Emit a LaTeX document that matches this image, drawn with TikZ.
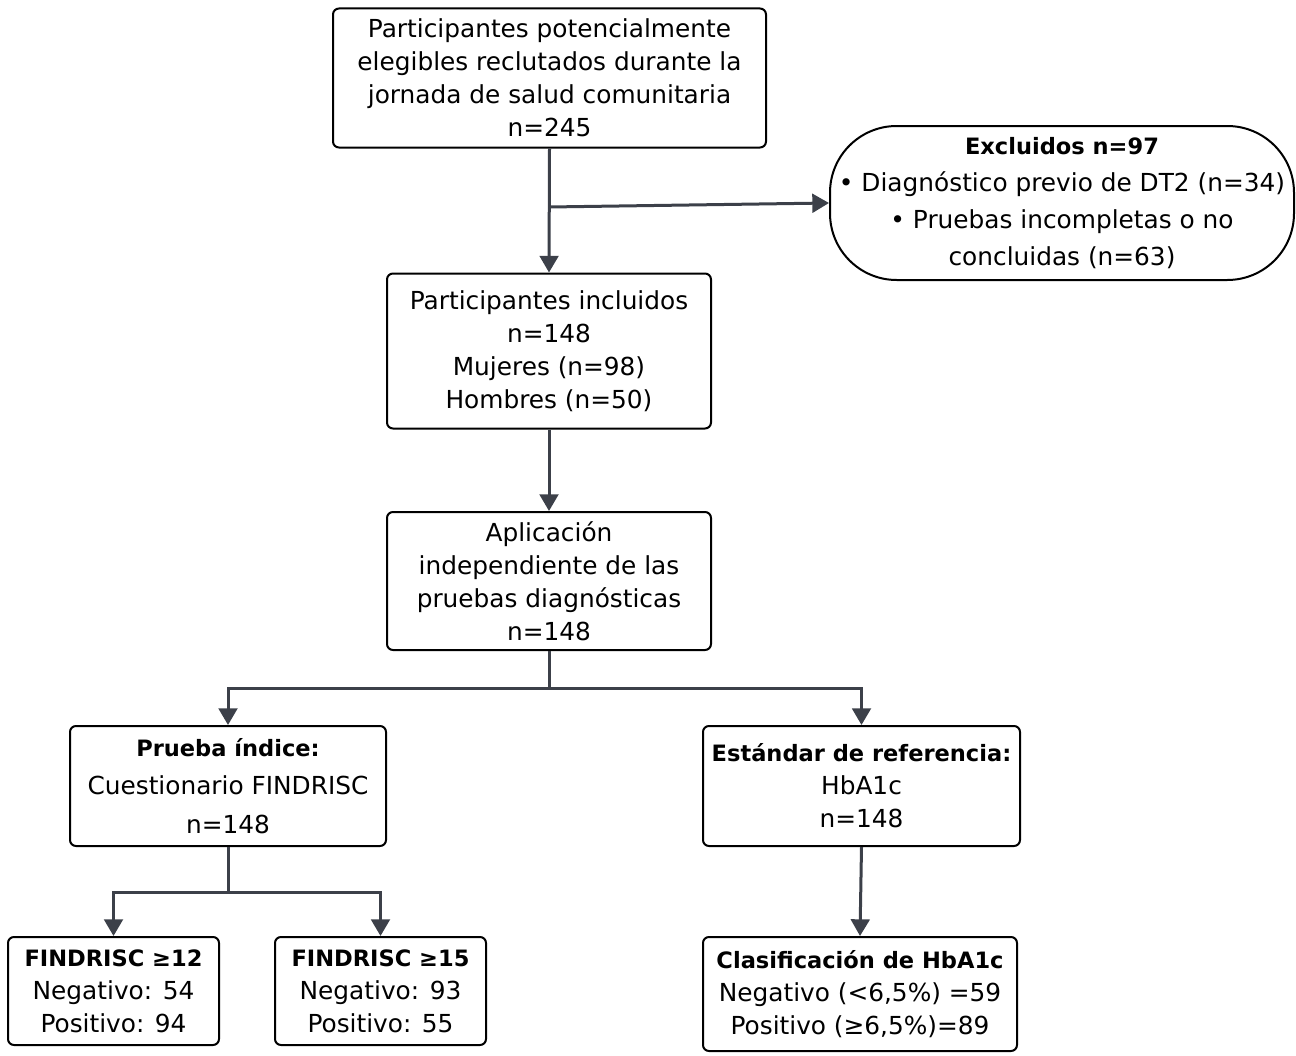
\documentclass[tikz,border=0pt]{standalone}
\usepackage{fontspec}
\setmainfont{DejaVu Sans}
\usetikzlibrary{arrows.meta}
\definecolor{arrc}{HTML}{3C4049}
\newcommand{\fs}{\fontsize{18.6}{24.75}\selectfont}
\newcommand{\bt}[1]{{\fontsize{16.9}{24.75}\selectfont\bfseries #1}}
\def\u{0.75pt}
\tikzset{
  box/.style={draw=black, line width=1.5pt, rounded corners=4.5pt, align=center, inner sep=0pt, font=\fs},
  arr/.style={draw=arrc, line width=2.25pt, -{Triangle[length=12.5pt,width=14pt]}},
  ln/.style={draw=arrc, line width=2.25pt}
}
\begin{document}
\begin{tikzpicture}[x=0.75pt,y=-0.75pt]
\useasboundingbox (0,0) rectangle (1296,1056);
\node[box, minimum width=433*\u, minimum height=139*\u] (top) at (549.5,78)
  {Participantes potencialmente\\elegibles reclutados durante la\\jornada de salud comunitaria\\n=245};
\node[box, rounded corners=50pt, minimum width=464*\u, minimum height=154*\u, font=\fontsize{18.6}{27.75}\selectfont] (exc) at (1062,203)
  {\bt{Excluidos n=97}\\• Diagnóstico previo de DT2 (n=34)\\• Pruebas incompletas o no\\concluidas (n=63)};
\node[box, minimum width=324*\u, minimum height=155*\u] (inc) at (549,351)
  {Participantes incluidos\\n=148\\Mujeres (n=98)\\Hombres (n=50)};
\node[box, minimum width=324*\u, minimum height=138*\u] (app) at (549,581)
  {Aplicación\\independiente de las\\pruebas diagnósticas\\n=148};
\node[box, minimum width=316*\u, minimum height=120*\u, font=\fontsize{18.6}{28.9}\selectfont] (prb) at (228,786)
  {\bt{Prueba índice:}\\Cuestionario FINDRISC\\n=148};
\node[box, minimum width=317*\u, minimum height=120*\u] (std) at (861.5,786)
  {\bt{Estándar de referencia:}\\HbA1c\\n=148};
\node[box, minimum width=211*\u, minimum height=108*\u] (f12) at (113.5,991)
  {\bt{FINDRISC ≥12}\\Negativo: 54\\Positivo: 94};
\node[box, minimum width=211*\u, minimum height=108*\u] (f15) at (380.5,991)
  {\bt{FINDRISC ≥15}\\Negativo: 93\\Positivo: 55};
\node[box, minimum width=314*\u, minimum height=114*\u] (cls) at (860,994)
  {\bt{Clasificación de HbA1c}\\Negativo (<6,5\%) =59\\Positivo (≥6,5\%)=89};
\draw[arr] (top.south) -- (inc.north);
\coordinate (j) at (549,207);
\draw[arr] (j) -- (exc.west);
\draw[arr] (inc.south) -- (app.north);
\draw[ln] (app.south) -- ++(0,37) coordinate (b1);
\draw[arr] (b1) -| (prb.north);
\draw[arr] (b1) -| (std.north);
\draw[ln] (prb.south) -- ++(0,45) coordinate (b2);
\draw[arr] (b2) -| (f12.north);
\draw[arr] (b2) -| (f15.north);
\draw[arr] (std.south) -- (cls.north);
\end{tikzpicture}
\end{document}
